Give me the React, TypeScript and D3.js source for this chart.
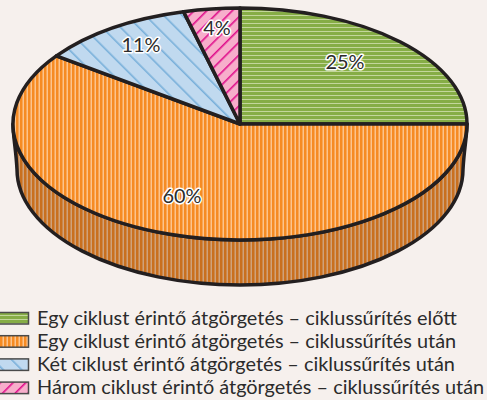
import React from "react";
import * as d3 from "d3";

const categories = [
  "Egy ciklust érintő átgörgetés – ciklussűrítés előtt",
  "Egy ciklust érintő átgörgetés – ciklussűrítés után",
  "Két ciklust érintő átgörgetés – ciklussűrítés után",
  "Három ciklust érintő átgörgetés – ciklussűrítés után",
];
const values = [25, 60, 11, 4];
const labels = ["25%", "60%", "11%", "4%"];
const patternIds = ["pGreen", "pOrange", "pBlue", "pPink"];
const labelPos = [
  [345, 64],
  [182, 198],
  [141, 47],
  [217, 30],
];

const cx = 240, cy = 124, rx = 227, ry = 116;
const bcx = 240, bcy = 169.5, brx = 223, bry = 115.5;
const stroke = "#231f20";

const pt = (a: number): [number, number] => [
  cx + rx * Math.sin(a),
  cy - ry * Math.cos(a),
];

export default function App() {
  const pie = d3.pie<number>().sort(null).value((d) => d)(values);
  const slice = (s: number, e: number) => {
    const [x0, y0] = pt(s);
    const [x1, y1] = pt(e);
    const large = e - s > Math.PI ? 1 : 0;
    return `M${cx},${cy}L${x0},${y0}A${rx},${ry} 0 ${large} 1 ${x1},${y1}Z`;
  };
  const side = `M${cx + rx},${cy}A${rx},${ry} 0 0 1 ${cx - rx},${cy}C${cx - rx},${cy + 12} ${bcx - brx - 1},${bcy - 20} ${bcx - brx},${bcy}A${brx},${bry} 0 0 0 ${bcx + brx},${bcy}C${bcx + brx + 1},${bcy - 20} ${cx + rx},${cy + 12} ${cx + rx},${cy}Z`;

  return (
    <svg
      width={487}
      height={400}
      style={{ position: "absolute", left: 0, top: 0, background: "#f6f0ed" }}
    >
      <defs>
        <pattern id="pGreen" width={4} height={4} patternUnits="userSpaceOnUse">
          <rect width={4} height={4} fill="#c3d69b" />
          <rect width={4} height={3} fill="#86ad46" />
        </pattern>
        <pattern id="pOrange" width={4} height={4} patternUnits="userSpaceOnUse">
          <rect width={4} height={4} fill="#fcc48d" />
          <rect width={2.5} height={4} fill="#f68b23" />
        </pattern>
        <pattern id="pOrangeDark" width={4} height={4} patternUnits="userSpaceOnUse">
          <rect width={4} height={4} fill="#cfa27b" />
          <rect width={2.5} height={4} fill="#c9701f" />
        </pattern>
        <pattern id="pBlue" width={13} height={13} patternUnits="userSpaceOnUse" patternTransform="rotate(-45)">
          <rect width={13} height={13} fill="#c0d9ef" />
          <rect width={1.6} height={13} fill="#79b0da" />
        </pattern>
        <pattern id="pPink" width={9} height={9} patternUnits="userSpaceOnUse" patternTransform="rotate(45)">
          <rect width={9} height={9} fill="#f7aecb" />
          <rect width={1.6} height={9} fill="#e0108c" />
        </pattern>
      </defs>

      <path d={side} fill="url(#pOrangeDark)" stroke={stroke} strokeWidth={3.5} strokeLinejoin="round" />
      {pie.map((p, i) => (
        <path
          key={i}
          d={slice(p.startAngle, p.endAngle)}
          fill={`url(#${patternIds[i]})`}
          stroke={stroke}
          strokeWidth={3.5}
          strokeLinejoin="round"
        />
      ))}
      {labels.map((t, i) => (
        <text
          key={i}
          x={labelPos[i][0]}
          y={labelPos[i][1]}
          textAnchor="middle"
          dominantBaseline="middle"
          fontFamily="Lato, sans-serif"
          fontSize={19.9}
          fill="#2b2b2b"
          stroke="#ffffff"
          strokeWidth={3}
          paintOrder="stroke"
          strokeLinejoin="round"
        >
          {t}
        </text>
      ))}
      {categories.map((c, i) => {
        const y = 318.5 + i * 23.2;
        return (
          <g key={i}>
            <rect
              x={-2}
              y={y - 6}
              width={30.5}
              height={11.5}
              fill={`url(#${patternIds[i]})`}
              stroke="#4a4a4a"
              strokeWidth={1.5}
            />
            <text
              x={37}
              y={y + 6}
              fontFamily="Lato, sans-serif"
              fontSize={19.9}
              fill="#2b2b2b"
            >
              {c}
            </text>
          </g>
        );
      })}
    </svg>
  );
}
